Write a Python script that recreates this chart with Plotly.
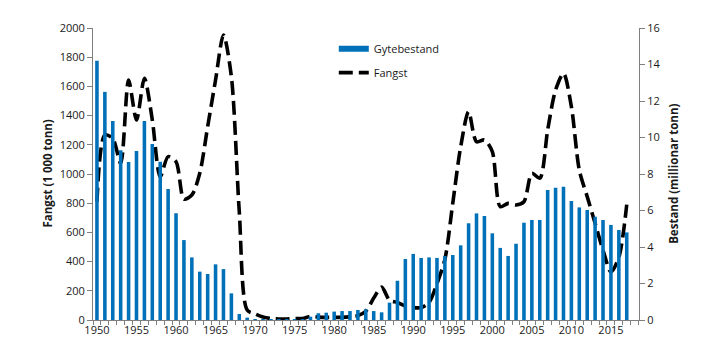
import plotly.graph_objects as go

years = list(range(1950, 2018))

gytebestand = [
    14.2, 12.5, 10.9, 9.3, 8.66, 9.26, 10.9, 9.64, 8.67, 7.18,
    5.85, 4.38, 3.43, 2.65, 2.52, 3.05, 2.79, 1.46, 0.33, 0.13,
    0.05, 0.02, 0.01, 0.01, 0.01, 0.02, 0.05, 0.18, 0.37, 0.40,
    0.46, 0.49, 0.49, 0.55, 0.59, 0.49, 0.42, 0.95, 2.15, 3.34,
    3.62, 3.40, 3.43, 3.40, 3.51, 3.56, 4.09, 5.30, 5.84, 5.70,
    4.75, 3.95, 3.51, 4.18, 5.33, 5.48, 5.48, 7.12, 7.25, 7.30,
    6.52, 6.17, 6.03, 5.66, 5.48, 5.21, 4.93, 4.80,
]

fangst = [
    811, 1267, 1244, 1073, 1644, 1370, 1655, 1370, 982, 1119,
    1084, 828, 856, 1005, 1324, 1644, 1952, 1667, 740, 68,
    42, 20, 10, 7, 7, 10, 10, 25, 20, 18,
    18, 18, 22, 30, 60, 150, 225, 135, 120, 95,
    85, 85, 120, 250, 415, 800, 1187, 1427, 1221, 1233,
    1153, 776, 799, 788, 810, 1005, 971, 1301, 1575, 1689,
    1461, 1027, 845, 662, 479, 330, 430, 790,
]

left_ticks = list(range(0, 2001, 200))
right_ticks = list(range(0, 17, 2))
x_ticks = list(range(1950, 2016, 5))

BLUE = "#0070B8"
FONT = "Open Sans"
AXIS_COLOR = "#7f7f7f"

fig = go.Figure()

fig.add_trace(go.Bar(
    x=years, y=gytebestand, yaxis="y2", name="Gytebestand",
    marker=dict(color=BLUE, line=dict(width=0)), width=0.45,
    showlegend=False,
))
# legend swatch for the bars (wide thin bar as in the reference)
fig.add_trace(go.Scatter(
    x=[None], y=[None], yaxis="y2", mode="lines", name="Gytebestand",
    line=dict(color=BLUE, width=6), legendgroup="a",
))
fig.add_trace(go.Scatter(
    x=years, y=fangst, mode="lines", name="Fangst",
    line=dict(color="black", width=3.6, dash="14px,6px", shape="spline", smoothing=0.8),
    legendgroup="b",
))

fig.update_layout(
    width=719, height=362,
    margin=dict(l=93, r=80, t=28, b=42),
    paper_bgcolor="white", plot_bgcolor="white",
    font=dict(family=FONT, size=11, color="#1a1a1a"),
    bargap=0.5,
    showlegend=True,
    legend=dict(x=0.441, y=0.979, xanchor="left", yanchor="top",
                bgcolor="rgba(0,0,0,0)", font=dict(size=11),
                tracegroupgap=5),
    xaxis=dict(
        range=[1949.5, 2018.55], tickmode="array", tickvals=x_ticks,
        ticktext=[str(v) for v in x_ticks], ticks="", showgrid=False,
        showline=True, linecolor=AXIS_COLOR, linewidth=1, zeroline=False,
        minor=dict(ticks="outside", tickmode="linear", tick0=1949.5, dtick=1,
                   ticklen=4, tickcolor=AXIS_COLOR, showgrid=False),
    ),
    yaxis=dict(
        range=[0, 2000], tickmode="array", tickvals=left_ticks,
        ticks="outside", ticklen=5, tickcolor=AXIS_COLOR,
        showgrid=False, showline=True, linecolor=AXIS_COLOR, linewidth=1,
        zeroline=False,
    ),
    yaxis2=dict(
        range=[0, 16], tickmode="array", tickvals=right_ticks,
        overlaying="y", side="right",
        ticks="outside", ticklen=5, tickcolor=AXIS_COLOR,
        showgrid=False, showline=True, linecolor=AXIS_COLOR, linewidth=1,
        zeroline=False,
    ),
    annotations=[
        dict(text="<b>Fangst (1 000 tonn)</b>", xref="paper", yref="paper",
             x=-0.085, y=0.5, xanchor="center", yanchor="middle",
             textangle=-90, showarrow=False, font=dict(size=11.5)),
        dict(text="<b>Bestand (millionar tonn)</b>", xref="paper", yref="paper",
             x=1.062, y=0.5, xanchor="center", yanchor="middle",
             textangle=-90, showarrow=False, font=dict(size=11.5)),
    ],
)

fig.write_html(
    "out.html",
    config={"responsive": False, "displayModeBar": False},
    post_script="document.body.style.margin='0';document.body.style.overflow='hidden';",
)
